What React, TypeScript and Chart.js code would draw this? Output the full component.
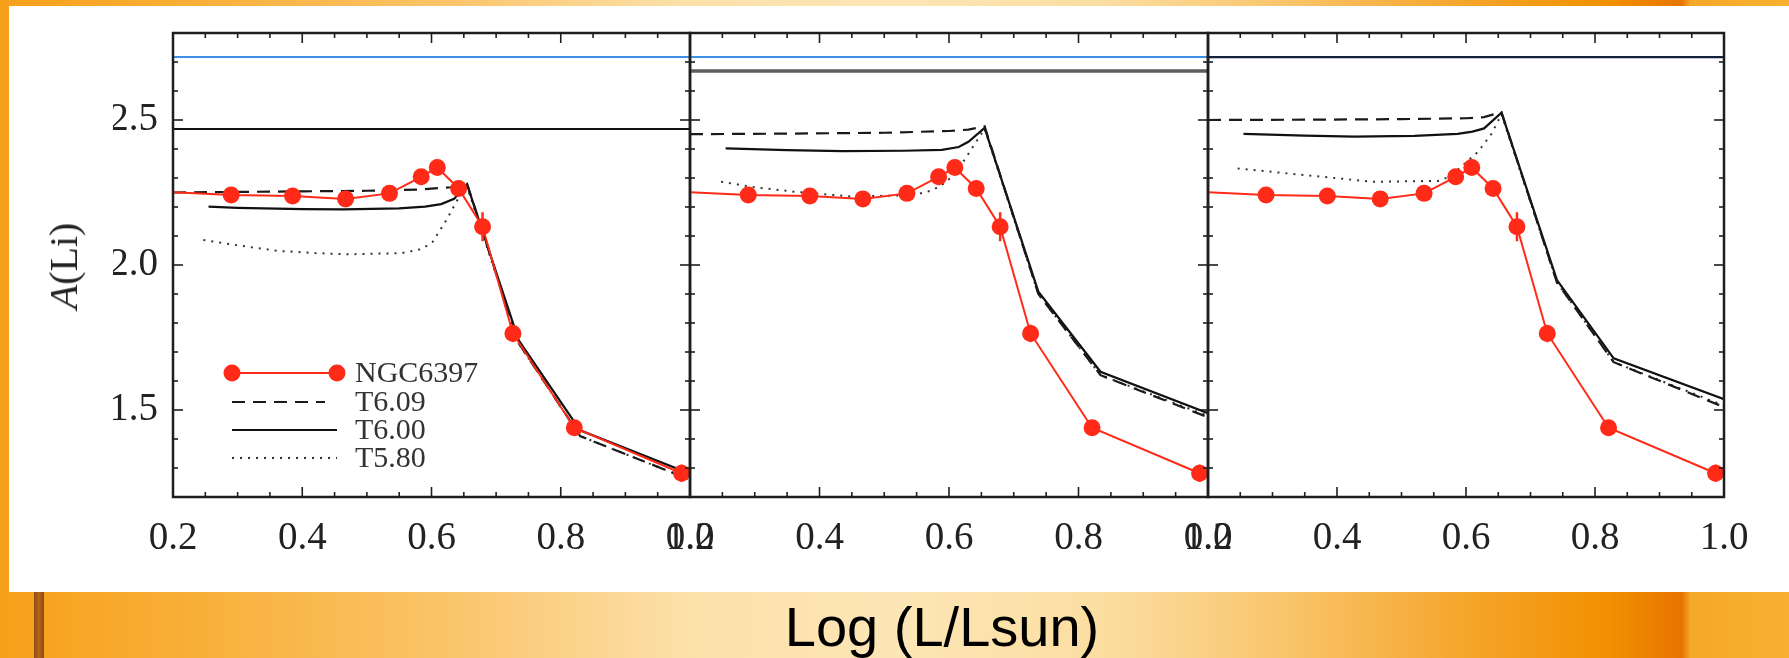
import React, { useEffect, useRef } from "react";
import { Chart, registerables } from "chart.js";
Chart.register(...registerables);

const W = 1789;
const H = 658;

// ---- axis ranges & ticks ----
const X_MIN = 0.2;
const X_MAX = 1.0;
const Y_MIN = 1.2;
const Y_MAX = 2.8;
const xTickValues = [0.2, 0.4, 0.6, 0.8, 1.0];
const xMinorTicks = [0.25, 0.3, 0.35, 0.45, 0.5, 0.55, 0.65, 0.7, 0.75, 0.85, 0.9, 0.95];
const yTickValues = [1.5, 2.0, 2.5];
const yMinorTicks = [1.3, 1.4, 1.6, 1.7, 1.8, 1.9, 2.1, 2.2, 2.3, 2.4, 2.6, 2.7];

// ---- observed NGC6397 (same in every panel) ----
const obsLogL = [0.15, 0.29, 0.385, 0.467, 0.535, 0.584, 0.609, 0.642, 0.679, 0.726, 0.821, 0.987];
const obsALi = [2.256, 2.241, 2.238, 2.228, 2.247, 2.304, 2.336, 2.264, 2.132, 1.764, 1.439, 1.282];
const obsErr = [0.015, 0.015, 0.015, 0.015, 0.015, 0.015, 0.015, 0.015, 0.05, 0.03, 0.02, 0.03];

// ---- panel 1 models ----
const p1T609X = [0.2, 0.3, 0.4, 0.5, 0.58, 0.63, 0.655, 0.735, 0.83, 1.0];
const p1T609Y = [2.25, 2.252, 2.254, 2.256, 2.26, 2.268, 2.28, 1.73, 1.41, 1.26];
const p1T600X = [0.255, 0.3, 0.4, 0.464, 0.55, 0.59, 0.615, 0.635, 0.655, 0.735, 0.83, 1.0];
const p1T600Y = [2.201, 2.197, 2.193, 2.192, 2.195, 2.201, 2.21, 2.228, 2.278, 1.74, 1.43, 1.28];
const p1T580X = [0.247, 0.3, 0.361, 0.42, 0.471, 0.554, 0.585, 0.602, 0.623, 0.64, 0.655, 0.735, 0.83, 1.0];
const p1T580Y = [2.086, 2.068, 2.049, 2.041, 2.037, 2.041, 2.055, 2.08, 2.155, 2.224, 2.27, 1.73, 1.41, 1.26];

// ---- panel 2 models ----
const p2T609X = [0.2, 0.35, 0.5, 0.6, 0.63, 0.655, 0.738, 0.834, 1.0];
const p2T609Y = [2.451, 2.453, 2.456, 2.462, 2.467, 2.478, 1.9, 1.62, 1.475];
const p2T600X = [0.255, 0.35, 0.435, 0.53, 0.589, 0.615, 0.63, 0.655, 0.738, 0.834, 1.0];
const p2T600Y = [2.402, 2.396, 2.393, 2.394, 2.397, 2.407, 2.425, 2.473, 1.908, 1.632, 1.489];
const p2T580X = [0.248, 0.3, 0.36, 0.45, 0.546, 0.575, 0.594, 0.61, 0.634, 0.655, 0.738, 0.834, 1.0];
const p2T580Y = [2.287, 2.268, 2.253, 2.236, 2.241, 2.258, 2.284, 2.316, 2.397, 2.47, 1.9, 1.62, 1.48];

// ---- panel 3 models ----
const p3T609X = [0.2, 0.35, 0.5, 0.6, 0.628, 0.655, 0.741, 0.829, 1.0];
const p3T609Y = [2.5, 2.501, 2.503, 2.506, 2.51, 2.527, 1.94, 1.665, 1.51];
const p3T600X = [0.255, 0.35, 0.427, 0.52, 0.587, 0.61, 0.628, 0.655, 0.741, 0.829, 1.0];
const p3T600Y = [2.452, 2.446, 2.443, 2.445, 2.452, 2.46, 2.471, 2.525, 1.948, 1.678, 1.537];
const p3T580X = [0.246, 0.35, 0.456, 0.557, 0.575, 0.587, 0.619, 0.64, 0.655, 0.741, 0.829, 1.0];
const p3T580Y = [2.333, 2.31, 2.287, 2.29, 2.305, 2.328, 2.391, 2.454, 2.52, 1.94, 1.665, 1.515];

// ---- horizontal reference levels ----
const refLineX = [0.2, 1.0];
const p1RefLevels = [2.717, 2.469];
const p2RefLevels = [2.717, 2.669];
const p3RefLevels = [2.717];

const seriesNames = ["NGC6397", "T6.09", "T6.00", "T5.80"];

// ---- layout ----
const PANEL_EDGES = [173, 690, 1208, 1724];
const PLOT_TOP = 33;
const PLOT_BOTTOM = 497;
const Y_AXIS_W = 60;
const X_AXIS_H = 60;

const RED = "#ff2a17";
const SERIF = '"Liberation Serif", "Times New Roman", serif';

const pts = (xs: number[], ys: number[]) => xs.map((x, i) => ({ x, y: ys[i] }));

const framePlugin = {
  id: "frameTicks",
  afterDraw(chart: any) {
    const { ctx, chartArea: a, scales } = chart;
    const xs = scales.x;
    const ys = scales.y;
    ctx.save();
    ctx.strokeStyle = "#1e1e1e";
    const seg = (x0: number, y0: number, x1: number, y1: number) => {
      ctx.beginPath();
      ctx.moveTo(x0, y0);
      ctx.lineTo(x1, y1);
      ctx.stroke();
    };
    ctx.lineWidth = 1.6;
    const xt = (vals: number[], len: number) => {
      for (const v of vals) {
        const p = xs.getPixelForValue(v);
        seg(p, a.bottom, p, a.bottom - len);
        seg(p, a.top, p, a.top + len);
      }
    };
    const yt = (vals: number[], len: number) => {
      for (const v of vals) {
        const p = ys.getPixelForValue(v);
        seg(a.left, p, a.left + len, p);
        seg(a.right, p, a.right - len, p);
      }
    };
    xt(xTickValues, 10);
    xt(xMinorTicks, 5);
    yt(yTickValues, 10);
    yt(yMinorTicks, 5);
    ctx.lineWidth = 2.5;
    ctx.strokeRect(a.left, a.top, a.right - a.left, a.bottom - a.top);
    ctx.restore();
  },
};

const errorBarPlugin = {
  id: "errorBars",
  afterDatasetsDraw(chart: any) {
    const { ctx, chartArea: a, scales } = chart;
    ctx.save();
    ctx.beginPath();
    ctx.rect(a.left, a.top, a.right - a.left, a.bottom - a.top);
    ctx.clip();
    chart.data.datasets.forEach((ds: any) => {
      if (!ds.errors) return;
      ctx.strokeStyle = ds.borderColor;
      ctx.lineWidth = 2.5;
      ds.data.forEach((d: any, i: number) => {
        const px = scales.x.getPixelForValue(d.x);
        const y0 = scales.y.getPixelForValue(d.y - ds.errors[i]);
        const y1 = scales.y.getPixelForValue(d.y + ds.errors[i]);
        ctx.beginPath();
        ctx.moveTo(px, y0);
        ctx.lineTo(px, y1);
        ctx.stroke();
      });
    });
    ctx.restore();
  },
};

const innerLegendPlugin = {
  id: "innerLegend",
  afterDraw(chart: any) {
    const { ctx, chartArea: a } = chart;
    const rows = [340, 369, 397, 425];
    const x0 = a.left + 59;
    const x1 = a.left + 164;
    const tx = a.left + 182;
    ctx.save();
    seriesNames.forEach((name, i) => {
      const ds = chart.data.datasets.find((d: any) => d.label === name);
      if (!ds) return;
      const y = a.top + rows[i];
      ctx.strokeStyle = ds.borderColor;
      ctx.lineWidth = ds.borderWidth;
      ctx.setLineDash(ds.borderDash || []);
      ctx.beginPath();
      ctx.moveTo(x0, y);
      ctx.lineTo(ds.borderDash && ds.borderDash[0] > 5 ? x1 - 12 : x1, y);
      ctx.stroke();
      ctx.setLineDash([]);
      if (ds.pointRadius > 0) {
        ctx.fillStyle = ds.backgroundColor;
        [x0, x1].forEach((px) => {
          ctx.beginPath();
          ctx.arc(px, y, ds.pointRadius, 0, Math.PI * 2);
          ctx.fill();
        });
      }
      ctx.fillStyle = "#333";
      ctx.font = `30px ${SERIF}`;
      ctx.textBaseline = "middle";
      ctx.textAlign = "left";
      ctx.fillText(name, tx, y + 1);
    });
    ctx.restore();
  },
};

type PanelDef = {
  t609: [number[], number[]];
  t600: [number[], number[]];
  t580: [number[], number[]];
  refs: number[];
  refColors: string[];
  refWidths: number[];
};

const panels: PanelDef[] = [
  {
    t609: [p1T609X, p1T609Y],
    t600: [p1T600X, p1T600Y],
    t580: [p1T580X, p1T580Y],
    refs: p1RefLevels,
    refColors: ["#3d8fe6", "#111111"],
    refWidths: [2, 2.2],
  },
  {
    t609: [p2T609X, p2T609Y],
    t600: [p2T600X, p2T600Y],
    t580: [p2T580X, p2T580Y],
    refs: p2RefLevels,
    refColors: ["#3d8fe6", "#5c5c5c"],
    refWidths: [2, 3.5],
  },
  {
    t609: [p3T609X, p3T609Y],
    t600: [p3T600X, p3T600Y],
    t580: [p3T580X, p3T580Y],
    refs: p3RefLevels,
    refColors: ["#14213d"],
    refWidths: [2.2],
  },
];

function buildConfig(p: PanelDef, idx: number): any {
  const left = PANEL_EDGES[idx];
  const right = PANEL_EDGES[idx + 1];
  const showY = idx === 0;
  const datasets: any[] = [
    {
      label: seriesNames[0],
      data: pts(obsLogL, obsALi),
      borderColor: RED,
      backgroundColor: RED,
      borderWidth: 2,
      pointRadius: 8.5,
      pointBorderWidth: 0,
      pointBackgroundColor: RED,
      errors: obsErr,
      order: 0,
    },
    {
      label: seriesNames[1],
      data: pts(p.t609[0], p.t609[1]),
      borderColor: "#1a1a1a",
      borderWidth: 2.2,
      borderDash: [13, 8],
      pointRadius: 0,
      order: 1,
    },
    {
      label: seriesNames[2],
      data: pts(p.t600[0], p.t600[1]),
      borderColor: "#111111",
      borderWidth: 2.2,
      pointRadius: 0,
      order: 2,
    },
    {
      label: seriesNames[3],
      data: pts(p.t580[0], p.t580[1]),
      borderColor: "#333333",
      borderWidth: 2,
      borderDash: [2, 6],
      pointRadius: 0,
      order: 3,
    },
  ];
  p.refs.forEach((lvl, i) => {
    datasets.push({
      label: "ref" + i,
      data: refLineX.map((x) => ({ x, y: lvl })),
      borderColor: p.refColors[i],
      borderWidth: p.refWidths[i],
      pointRadius: 0,
      order: 5 + i,
    });
  });
  return {
    type: "line",
    data: { datasets },
    options: {
      responsive: false,
      animation: false,
      devicePixelRatio: 1,
      layout: {
        autoPadding: false,
        padding: {
          left: showY ? left - Y_AXIS_W : left,
          right: W - right,
          top: PLOT_TOP,
          bottom: H - PLOT_BOTTOM - X_AXIS_H,
        },
      },
      elements: { line: { tension: 0 } },
      plugins: { legend: { display: false }, tooltip: { enabled: false } },
      scales: {
        x: {
          type: "linear",
          min: X_MIN,
          max: X_MAX,
          afterBuildTicks: (s: any) => {
            s.ticks = xTickValues.map((v) => ({ value: v }));
          },
          afterFit: (s: any) => {
            s.height = X_AXIS_H;
            s.paddingLeft = 0;
            s.paddingRight = 0;
          },
          grid: { display: false, drawTicks: false },
          border: { display: false },
          ticks: {
            callback: (v: any) => Number(v).toFixed(1),
            font: { family: SERIF, size: 39 },
            color: "#222",
            padding: 18,
            maxRotation: 0,
            autoSkip: false,
          },
        },
        y: {
          type: "linear",
          display: showY,
          min: Y_MIN,
          max: Y_MAX,
          afterBuildTicks: (s: any) => {
            s.ticks = yTickValues.map((v) => ({ value: v }));
          },
          afterFit: (s: any) => {
            s.width = showY ? Y_AXIS_W : 0;
            s.paddingTop = 0;
            s.paddingBottom = 0;
          },
          grid: { display: false, drawTicks: false },
          border: { display: false },
          ticks: {
            callback: (v: any) => Number(v).toFixed(1),
            font: { family: SERIF, size: 39 },
            color: "#222",
            padding: 15,
          },
        },
      },
    },
    plugins: idx === 0 ? [errorBarPlugin, framePlugin, innerLegendPlugin] : [errorBarPlugin, framePlugin],
  };
}

function Panel({ idx }: { idx: number }) {
  const ref = useRef<HTMLCanvasElement | null>(null);
  useEffect(() => {
    if (!ref.current) return;
    const chart = new Chart(ref.current, buildConfig(panels[idx], idx));
    return () => chart.destroy();
  }, [idx]);
  return (
    <canvas
      ref={ref}
      width={W}
      height={H}
      style={{ position: "absolute", left: 0, top: 0, width: W, height: H }}
    />
  );
}

export default function App() {
  return (
    <div
      style={{
        position: "fixed",
        left: 0,
        top: 0,
        width: W,
        height: H,
        overflow: "hidden",
        background:
          "linear-gradient(to right, #f7a01a 0%, #f8ae35 10%, #fac469 25%, #fce0a8 38%, #fde6b6 50%, #fbdda0 62%, #f9c46a 72%, #f5a52a 82%, #f29000 90%, #e77400 94%, #f6a828 94.5%, #f8b030 100%)",
      }}
    >
      <div
        style={{
          position: "absolute",
          left: 34,
          top: 592,
          width: 10,
          height: 66,
          background: "linear-gradient(to right, #8a4a16, #b5651d, #8a4a16)",
        }}
      />
      <div
        style={{
          position: "absolute",
          left: 9,
          top: 6,
          width: W - 9,
          height: 586,
          background: "#ffffff",
        }}
      />
      {[0, 1, 2].map((i) => (
        <Panel key={i} idx={i} />
      ))}
      <div
        style={{
          position: "absolute",
          left: 64,
          top: 266,
          transform: "translate(-50%, -50%) rotate(-90deg)",
          whiteSpace: "nowrap",
          fontFamily: SERIF,
          fontSize: 40,
          lineHeight: 1,
          color: "#222",
        }}
      >
        <span style={{ fontStyle: "italic" }}>A</span>(Li)
      </div>
      <div
        style={{
          position: "absolute",
          left: 942,
          top: 599,
          transform: "translateX(-50%)",
          whiteSpace: "nowrap",
          fontFamily: '"Liberation Sans", Arial, sans-serif',
          fontSize: 56,
          lineHeight: 1,
          color: "#000",
        }}
      >
        Log (L/Lsun)
      </div>
    </div>
  );
}
